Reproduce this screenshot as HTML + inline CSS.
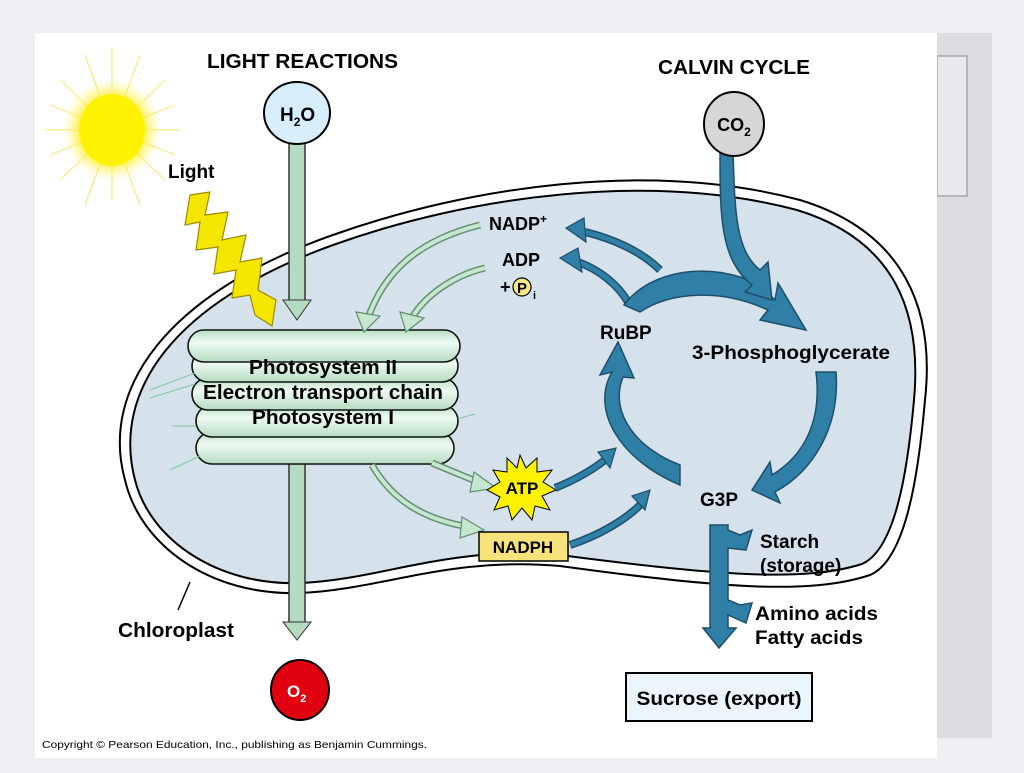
<!DOCTYPE html>
<html><head><style>
body{margin:0;width:1024px;height:768px;background:#eef0f4;overflow:hidden;font-family:"Liberation Sans",sans-serif}
</style></head><body>
<svg width="1024" height="768" viewBox="0 0 1024 768" xmlns="http://www.w3.org/2000/svg" font-family="Liberation Sans, sans-serif" font-weight="bold">
<defs>
<radialGradient id="sun"><stop offset="0.55" stop-color="#ffee00"/><stop offset="1" stop-color="#fff6a0" stop-opacity="0"/></radialGradient>
<linearGradient id="thy" x1="0" y1="0" x2="0" y2="1"><stop offset="0" stop-color="#b9e0c4"/><stop offset="0.4" stop-color="#eefaf1"/><stop offset="1" stop-color="#b5dcc0"/></linearGradient>
</defs>
<rect x="937" y="33" width="55" height="705" fill="#dcdde1"/>
<rect x="937" y="56" width="30" height="140" fill="#e8e9ec" stroke="#888" stroke-width="1"/>
<rect x="35" y="33" width="902" height="725" fill="#fff"/>
<!-- sun -->
<g stroke="#ffe680" stroke-width="1.2">
<line x1="112" y1="48" x2="112" y2="200"/><line x1="45" y1="130" x2="180" y2="130"/>
<line x1="60" y1="80" x2="165" y2="180"/><line x1="60" y1="180" x2="165" y2="80"/>
<line x1="85" y1="55" x2="140" y2="205"/><line x1="140" y1="55" x2="85" y2="205"/>
<line x1="50" y1="105" x2="175" y2="155"/><line x1="50" y1="155" x2="175" y2="105"/>
</g>
<ellipse cx="112" cy="130" rx="50" ry="52" fill="url(#sun)"/>
<ellipse cx="112" cy="130" rx="33" ry="36" fill="#fff200"/>
<g lengthAdjust="spacingAndGlyphs">
<text x="207" y="68" font-size="20" textLength="191" lengthAdjust="spacingAndGlyphs">LIGHT REACTIONS</text>
<text x="658" y="74" font-size="20" textLength="152" lengthAdjust="spacingAndGlyphs">CALVIN CYCLE</text>
</g>
<text x="168" y="178" font-size="19">Light</text>
<!-- chloroplast -->
<path d="M125,480 C100,390 165,295 330,236 C470,186 650,160 800,200 C905,232 935,310 925,400 C918,480 905,560 870,575 C810,595 720,588 560,566 C450,556 380,590 300,593 C210,596 140,545 125,480 Z" fill="#fff" stroke="#000" stroke-width="2"/>
<path d="M135,480 C112,392 172,303 333,245 C470,196 650,171 797,210 C895,240 922,312 914,400 C907,478 894,550 862,564 C805,582 720,576 560,555 C450,545 380,580 300,583 C218,586 150,540 135,480 Z" fill="#d5e2ec" stroke="#000" stroke-width="2"/>
<path d="M190,582 L178,610" stroke="#000" stroke-width="1.5"/>
<text x="118" y="637" font-size="20" textLength="116" lengthAdjust="spacingAndGlyphs">Chloroplast</text>
<!-- H2O stem and arrow down -->
<rect x="289" y="140" width="16" height="165" fill="#b5dcc0" stroke="#333" stroke-width="1.5"/>
<path d="M283,300 L311,300 L297,320 Z" fill="#b5dcc0" stroke="#333"/>
<ellipse cx="297" cy="113" rx="33" ry="31" fill="#d8eefc" stroke="#000" stroke-width="2"/>
<text x="280" y="121" font-size="19">H<tspan font-size="12" dy="5">2</tspan><tspan dy="-5">O</tspan></text>
<rect x="289" y="460" width="16" height="165" fill="#b5dcc0" stroke="#333" stroke-width="1.5"/>
<path d="M283,622 L311,622 L297,640 Z" fill="#b5dcc0" stroke="#333"/>
<ellipse cx="300" cy="690" rx="29" ry="30" fill="#e00010" stroke="#000" stroke-width="2"/>
<text x="287" y="697" font-size="17" fill="#fff">O<tspan font-size="11" dy="5">2</tspan></text>
<!-- lightning -->
<path d="M190,195 L210,192 L205,215 L228,212 L222,240 L246,235 L240,262 L262,258 L258,290 L276,300 L272,326 L255,315 L250,295 L232,298 L236,270 L214,274 L218,247 L196,250 L200,222 L185,225 Z" fill="#f5e600" stroke="#9a8a00" stroke-width="1.2"/>
<!-- thylakoid stack -->
<g stroke="#111" stroke-width="1.6" fill="url(#thy)">
<rect x="196" y="432" width="258" height="32" rx="16"/>
<rect x="196" y="405" width="262" height="32" rx="16"/>
<rect x="192" y="378" width="266" height="32" rx="16"/>
<rect x="192" y="350" width="266" height="32" rx="16"/>
<rect x="188" y="330" width="272" height="32" rx="16"/>
</g>
<g stroke="#7fc89a" stroke-width="1" fill="none">
<path d="M150,390 L195,373"/><path d="M150,398 L195,384"/><path d="M170,470 L200,456"/><path d="M460,418 L475,414"/><path d="M172,426 L196,426"/>
</g>
<text x="323" y="374" font-size="20" text-anchor="middle" textLength="148" lengthAdjust="spacingAndGlyphs">Photosystem II</text>
<text x="323" y="399" font-size="20" text-anchor="middle" textLength="240" lengthAdjust="spacingAndGlyphs">Electron transport chain</text>
<text x="323" y="424" font-size="20" text-anchor="middle" textLength="142" lengthAdjust="spacingAndGlyphs">Photosystem I</text>
<!-- green arrows -->
<g fill="none" stroke="#5f8f6f" stroke-width="7"><path d="M480,225 C420,240 385,270 368,318"/><path d="M485,268 C455,275 425,295 412,318"/><path d="M432,463 L478,482"/><path d="M372,465 C395,505 430,520 468,527"/></g>
<g fill="none" stroke="#c6e6cf" stroke-width="4"><path d="M480,225 C420,240 385,270 368,318"/><path d="M485,268 C455,275 425,295 412,318"/><path d="M432,463 L478,482"/><path d="M372,465 C395,505 430,520 468,527"/></g>
<g fill="#c6e6cf" stroke="#5f8f6f" stroke-width="1.2">
<path d="M356,312 L380,316 L364,332 Z"/><path d="M400,312 L424,318 L406,332 Z"/><path d="M474,472 L496,488 L470,492 Z"/><path d="M462,517 L484,530 L460,538 Z"/>
</g>
<text x="489" y="230" font-size="18">NADP<tspan font-size="12" dy="-7">+</tspan></text>
<text x="502" y="266" font-size="18">ADP</text>
<text x="500" y="293" font-size="18">+</text>
<circle cx="522" cy="287" r="9" fill="#f8e88a" stroke="#000" stroke-width="1.2"/>
<text x="517" y="293" font-size="15">P</text><text x="533" y="299" font-size="11">i</text>
<!-- ATP starburst -->
<path d="M520,455 L526,468 L537,458 L537,472 L552,470 L543,482 L556,490 L542,496 L550,510 L535,506 L532,520 L522,508 L512,520 L508,506 L494,510 L500,497 L487,490 L500,482 L493,470 L507,472 L507,458 L517,468 Z" fill="#fff200" stroke="#000" stroke-width="1"/>
<text x="522" y="494" font-size="17" text-anchor="middle">ATP</text>
<rect x="479" y="532" width="89" height="29" fill="#f8e37a" stroke="#000" stroke-width="1.5"/>
<text x="523" y="553" font-size="17" text-anchor="middle">NADPH</text>
<!-- blue arrows -->
<g fill="none" stroke="#1e4f6a" stroke-width="8"><path d="M555,488 C575,480 592,470 605,460"/><path d="M570,545 C600,535 625,520 640,505"/><path d="M660,270 C640,250 610,238 585,232"/><path d="M628,302 C618,285 600,270 578,262"/></g>
<g fill="none" stroke="#2f7fa7" stroke-width="5"><path d="M555,488 C575,480 592,470 605,460"/><path d="M570,545 C600,535 625,520 640,505"/><path d="M660,270 C640,250 610,238 585,232"/><path d="M628,302 C618,285 600,270 578,262"/></g>
<g fill="#2f7fa7" stroke="#1e4f6a" stroke-width="1.2">
<path d="M598,452 L616,448 L610,468 Z"/><path d="M632,496 L650,490 L645,510 Z"/><path d="M566,228 L584,218 L586,242 Z"/><path d="M560,258 L578,248 L582,272 Z"/>
</g>
<!-- Calvin cycle -->
<path d="M624,305 C650,270 710,260 760,285 L775,300 L778,283 L806,330 L760,320 L768,310 C720,288 670,292 640,312 Z" fill="#2f7fa7" stroke="#1e4f6a" stroke-width="1.5"/>
<path d="M720,152 L733,152 C735,210 735,250 760,270 L768,262 L772,300 L745,292 L752,285 C720,260 720,215 720,152 Z" fill="#2f7fa7" stroke="#1e4f6a" stroke-width="1.5"/>
<ellipse cx="734" cy="124" rx="30" ry="32" fill="#d6d6d6" stroke="#000" stroke-width="2"/>
<text x="734" y="131" font-size="18" text-anchor="middle">CO<tspan font-size="12" dy="5">2</tspan></text>
<path d="M816,372 L836,372 C840,425 815,470 775,492 L780,503 L752,490 L770,462 L772,475 C805,455 822,420 816,372 Z" fill="#2f7fa7" stroke="#1e4f6a" stroke-width="1.5"/>
<path d="M680,485 C620,460 590,410 612,372 L600,375 L618,342 L634,378 L623,377 C608,415 640,450 680,465 Z" fill="#2f7fa7" stroke="#1e4f6a" stroke-width="1.5"/>
<text x="600" y="339" font-size="19">RuBP</text>
<text x="692" y="359" font-size="19" textLength="198" lengthAdjust="spacingAndGlyphs">3-Phosphoglycerate</text>
<text x="700" y="506" font-size="19">G3P</text>
<!-- outputs -->
<path d="M710,525 L728,525 L728,530 L740,535 L752,530 L746,550 L728,548 L728,600 L740,605 L752,603 L746,623 L728,615 L728,628 L736,628 L719,648 L703,628 L710,628 Z" fill="#2f7fa7" stroke="#1e4f6a" stroke-width="1.5"/>
<text x="760" y="548" font-size="19">Starch</text>
<text x="760" y="572" font-size="19">(storage)</text>
<text x="755" y="620" font-size="19" textLength="123" lengthAdjust="spacingAndGlyphs">Amino acids</text>
<text x="755" y="644" font-size="19" textLength="108" lengthAdjust="spacingAndGlyphs">Fatty acids</text>
<rect x="626" y="673" width="186" height="48" fill="#eaf6fb" stroke="#000" stroke-width="2"/>
<text x="719" y="705" font-size="19" text-anchor="middle" textLength="165" lengthAdjust="spacingAndGlyphs">Sucrose (export)</text>
<text x="42" y="748" font-size="10.5" font-weight="normal" textLength="385" lengthAdjust="spacingAndGlyphs">Copyright © Pearson Education, Inc., publishing as Benjamin Cummings.</text>
</svg>
</body></html>
